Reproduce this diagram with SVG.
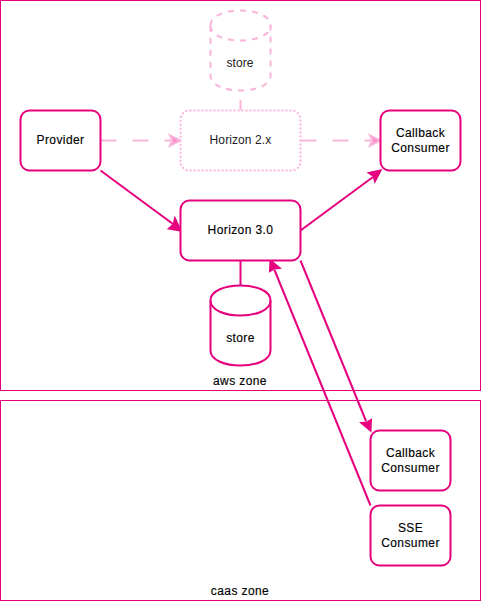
<svg xmlns="http://www.w3.org/2000/svg" width="481" height="601" viewBox="0 0 481 601">
<style>
text{font-family:"Liberation Sans",Arial,sans-serif;font-size:12px;fill:#000;stroke:#000;stroke-width:.15px;letter-spacing:.4px;text-anchor:middle}
.box{fill:#fff;stroke:#E6007E;stroke-width:2}
.zone{fill:#fff;stroke:#E6007E;stroke-width:1}
.ghost{fill:#fff;stroke:#FAB3DA;stroke-width:2}
.dash{stroke-dasharray:6 6}
.dot{stroke-dasharray:2 2}
.line{fill:none;stroke:#E6007E;stroke-width:2}
.gline{fill:none;stroke:#FAB3DA;stroke-width:2}
.tip{fill:#E6007E;stroke:#E6007E;stroke-width:2}
.gtip{fill:#F48CC8;stroke:#FAB3DA;stroke-width:2}
.faint{fill:#222;stroke:none;letter-spacing:.1px}
</style>
<g id="aws-zone"><rect class="zone" x="0.5" y="0.5" width="480" height="390"/><text x="240" y="385">aws zone</text></g>
<g id="caas-zone"><rect class="zone" x="0.5" y="400.5" width="480" height="200"/><text x="240" y="595">caas zone</text></g>
<g id="connectors">
<path class="gline" d="M240.500 100V110"/>
<path class="gline" d="M100.500 140.500H171" stroke-dasharray="16 16"/>
<path class="gtip" d="M180.500 140.500L170 145.500L172.500 140.500L170 135.500Z"/>
<path class="gline" d="M300.500 140.500H371" stroke-dasharray="16 16"/>
<path class="gtip" d="M380.500 140.500L370 145.500L372.500 140.500L370 135.500Z"/>
<path class="line" d="M100.500 170.500L173 224"/>
<path class="tip" d="M180.500 230.500L169 228.500L173.500 224.500L175 218.500Z"/>
<path class="line" d="M300.500 230.500L373 177"/>
<path class="tip" d="M380.500 170.500L375 181L373.500 176L369 173Z"/>
<path class="line" d="M240.500 260.500V285"/>
<path class="line" d="M300.500 260.500L366 421"/>
<path class="tip" d="M370.500 430.500L361.500 423L366.500 422.500L371 420Z"/>
<path class="line" d="M370.500 505.500L274.500 270"/>
<path class="tip" d="M270.500 260.500L279.500 268L274.500 268.500L270 271Z"/>
</g>
<g id="store-ghost"><path class="ghost dash" d="M210.500 25.500C210.500 5.500 270.500 5.500 270.500 25.500V75.500C270.500 95.500 210.500 95.500 210.500 75.500Z"/><path class="ghost dash" style="fill:none" d="M210.500 25.500C210.500 45.500 270.500 45.500 270.500 25.500"/><text x="240" y="67" class="faint">store</text></g>
<g id="horizon-2"><rect class="ghost dot" x="180.500" y="110.500" width="120" height="60" rx="9"/><text x="240.500" y="144" class="faint">Horizon 2.x</text></g>
<g id="provider"><rect class="box" x="20.500" y="110.500" width="80" height="60" rx="9"/><text x="60.500" y="144">Provider</text></g>
<g id="callback-top"><rect class="box" x="380.500" y="110.500" width="80" height="60" rx="9"/><text x="420.500" y="137">Callback</text><text x="420.500" y="152">Consumer</text></g>
<g id="horizon-3"><rect class="box" x="180.500" y="200.500" width="120" height="60" rx="9"/><text x="240.500" y="234">Horizon 3.0</text></g>
<g id="store"><path class="box" d="M210.500 300.500C210.500 280.500 270.500 280.500 270.500 300.500V350.500C270.500 370.500 210.500 370.500 210.500 350.500Z"/><path class="line" d="M210.500 300.500C210.500 320.500 270.500 320.500 270.500 300.500"/><text x="240.500" y="342">store</text></g>
<g id="callback-bottom"><rect class="box" x="370.500" y="430.500" width="80" height="60" rx="9"/><text x="410.500" y="457">Callback</text><text x="410.500" y="472">Consumer</text></g>
<g id="sse"><rect class="box" x="370.500" y="505.500" width="80" height="60" rx="9"/><text x="410.500" y="532">SSE</text><text x="410.500" y="547">Consumer</text></g>
</svg>
